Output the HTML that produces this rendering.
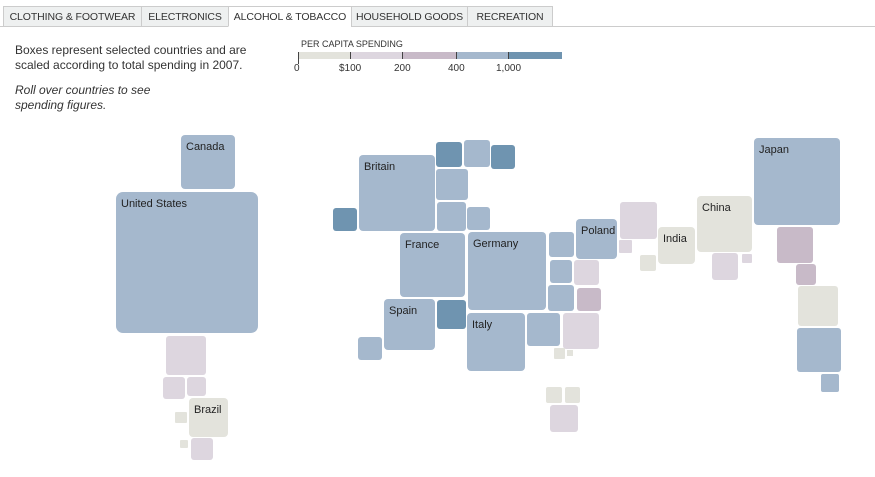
<!DOCTYPE html>
<html><head><style>
body{margin:0;width:875px;height:477px;background:#fff;font-family:"Liberation Sans",sans-serif;position:relative;overflow:hidden}
.t{position:absolute;top:6px;border:1px solid #ccc;background:#eef0f0;font-size:10.5px;color:#333;text-align:center;line-height:20px;box-sizing:border-box;height:21px;letter-spacing:-0.1px}
.b{position:absolute;border-radius:3px;box-sizing:border-box}
.l{font-size:11px;color:#222;padding:6px 0 0 5px;border-radius:4px}
.B{background:#a5b8cd}.D{background:#6f94b0}.P{background:#ddd6df}.M{background:#c8bac8}.G{background:#e3e3dc}
.a{position:absolute;font-size:12px;color:#333}
</style></head><body>
<div style="position:absolute;left:0;top:26px;width:875px;height:1px;background:#ccc"></div>
<div class="t" style="left:3px;width:139px">CLOTHING &amp; FOOTWEAR</div>
<div class="t" style="left:141px;width:88px">ELECTRONICS</div>
<div class="t" style="left:228px;width:124px;background:#fff;border-bottom-color:#fff">ALCOHOL &amp; TOBACCO</div>
<div class="t" style="left:351px;width:117px">HOUSEHOLD GOODS</div>
<div class="t" style="left:467px;width:86px">RECREATION</div>
<div class="a" style="left:15px;top:43px;line-height:15px">Boxes represent selected countries and are<br>scaled according to total spending in 2007.</div>
<div class="a" style="left:15px;top:83px;line-height:15px;font-style:italic">Roll over countries to see<br>spending figures.</div>
<div class="a" style="left:301px;top:39px;font-size:9px">PER CAPITA SPENDING</div>
<div style="position:absolute;left:298px;top:52px;width:52px;height:7px;background:#e3e3dc"></div>
<div style="position:absolute;left:350px;top:52px;width:52px;height:7px;background:#ddd6df"></div>
<div style="position:absolute;left:402px;top:52px;width:54px;height:7px;background:#c8bac8"></div>
<div style="position:absolute;left:456px;top:52px;width:52px;height:7px;background:#a5b8cd"></div>
<div style="position:absolute;left:508px;top:52px;width:54px;height:7px;background:#6f94b0"></div>
<div style="position:absolute;left:298px;top:52px;width:1px;height:12px;background:#444"></div>
<div style="position:absolute;left:350px;top:52px;width:1px;height:7px;background:#444"></div>
<div style="position:absolute;left:402px;top:52px;width:1px;height:7px;background:#444"></div>
<div style="position:absolute;left:456px;top:52px;width:1px;height:7px;background:#444"></div>
<div style="position:absolute;left:508px;top:52px;width:1px;height:7px;background:#444"></div>
<div class="a" style="left:294px;top:63px;font-size:10px">0</div>
<div class="a" style="left:339px;top:63px;font-size:10px">$100</div>
<div class="a" style="left:394px;top:63px;font-size:10px">200</div>
<div class="a" style="left:448px;top:63px;font-size:10px">400</div>
<div class="a" style="left:496px;top:63px;font-size:10px">1,000</div>

<div class="b B l" style="left:181px;top:135px;width:54px;height:54px">Canada</div>
<div class="b B l" style="left:116px;top:192px;width:142px;height:141px;border-radius:7px">United States</div>
<div class="b P" style="left:166px;top:336px;width:40px;height:39px"></div>
<div class="b P" style="left:163px;top:377px;width:22px;height:22px"></div>
<div class="b P" style="left:187px;top:377px;width:19px;height:19px"></div>
<div class="b G l" style="left:189px;top:398px;width:39px;height:39px">Brazil</div>
<div class="b G" style="left:175px;top:412px;width:12px;height:11px;border-radius:1px"></div>
<div class="b G" style="left:180px;top:440px;width:8px;height:8px;border-radius:1px"></div>
<div class="b P" style="left:191px;top:438px;width:22px;height:22px"></div>

<div class="b B l" style="left:359px;top:155px;width:76px;height:76px">Britain</div>
<div class="b D" style="left:436px;top:142px;width:26px;height:25px"></div>
<div class="b B" style="left:464px;top:140px;width:26px;height:27px"></div>
<div class="b D" style="left:491px;top:145px;width:24px;height:24px"></div>
<div class="b B" style="left:436px;top:169px;width:32px;height:31px"></div>
<div class="b B" style="left:437px;top:202px;width:29px;height:29px"></div>
<div class="b B" style="left:467px;top:207px;width:23px;height:23px"></div>
<div class="b D" style="left:333px;top:208px;width:24px;height:23px"></div>
<div class="b B l" style="left:400px;top:233px;width:65px;height:64px">France</div>
<div class="b B l" style="left:468px;top:232px;width:78px;height:78px">Germany</div>
<div class="b B l" style="left:576px;top:219px;width:41px;height:40px">Poland</div>
<div class="b B" style="left:549px;top:232px;width:25px;height:25px"></div>
<div class="b B" style="left:550px;top:260px;width:22px;height:23px"></div>
<div class="b P" style="left:574px;top:260px;width:25px;height:25px"></div>
<div class="b B" style="left:548px;top:285px;width:26px;height:26px"></div>
<div class="b M" style="left:577px;top:288px;width:24px;height:23px"></div>
<div class="b B l" style="left:384px;top:299px;width:51px;height:51px">Spain</div>
<div class="b D" style="left:437px;top:300px;width:29px;height:29px"></div>
<div class="b B" style="left:358px;top:337px;width:24px;height:23px"></div>
<div class="b B l" style="left:467px;top:313px;width:58px;height:58px">Italy</div>
<div class="b B" style="left:527px;top:313px;width:33px;height:33px"></div>
<div class="b P" style="left:563px;top:313px;width:36px;height:36px"></div>
<div class="b G" style="left:554px;top:348px;width:11px;height:11px;border-radius:1px"></div>
<div class="b G" style="left:567px;top:350px;width:6px;height:6px;border-radius:0"></div>
<div class="b G" style="left:546px;top:387px;width:16px;height:16px;border-radius:2px"></div>
<div class="b G" style="left:565px;top:387px;width:15px;height:16px;border-radius:2px"></div>
<div class="b P" style="left:550px;top:405px;width:28px;height:27px"></div>

<div class="b B l" style="left:754px;top:138px;width:86px;height:87px">Japan</div>
<div class="b P" style="left:620px;top:202px;width:37px;height:37px"></div>
<div class="b P" style="left:619px;top:240px;width:13px;height:13px;border-radius:1px"></div>
<div class="b G" style="left:640px;top:255px;width:16px;height:16px;border-radius:2px"></div>
<div class="b G l" style="left:658px;top:227px;width:37px;height:37px">India</div>
<div class="b G l" style="left:697px;top:196px;width:55px;height:56px">China</div>
<div class="b P" style="left:712px;top:253px;width:26px;height:27px"></div>
<div class="b P" style="left:742px;top:254px;width:10px;height:9px;border-radius:1px"></div>
<div class="b M" style="left:777px;top:227px;width:36px;height:36px"></div>
<div class="b M" style="left:796px;top:264px;width:20px;height:21px"></div>
<div class="b G" style="left:798px;top:286px;width:40px;height:40px"></div>
<div class="b B" style="left:797px;top:328px;width:44px;height:44px"></div>
<div class="b B" style="left:821px;top:374px;width:18px;height:18px;border-radius:2px"></div>
</body></html>
